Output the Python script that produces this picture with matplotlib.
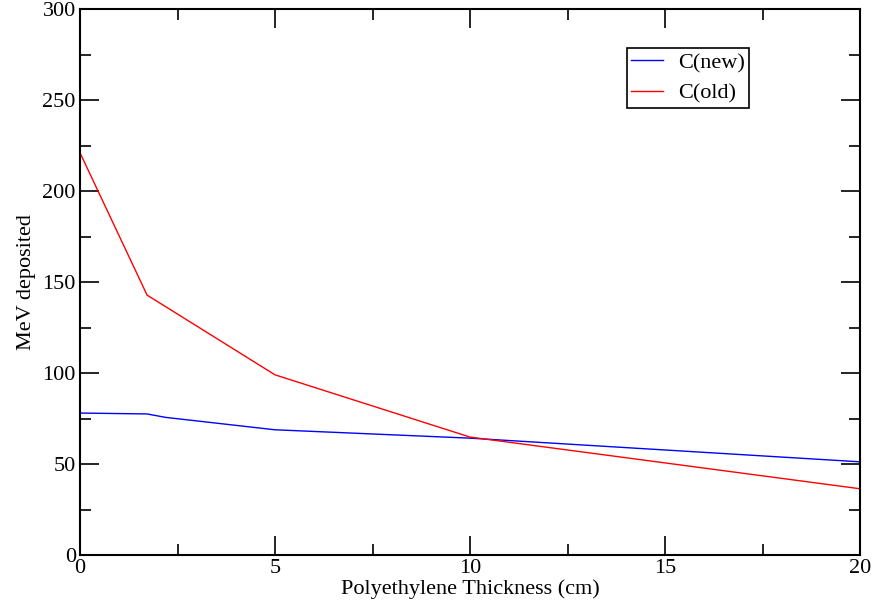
import matplotlib.pyplot as plt
from matplotlib.ticker import MultipleLocator

plt.rcParams['font.family'] = ['Liberation Serif', 'DejaVu Serif']

# thickness (cm) and deposited energy (MeV)
x_new = [0, 1.72, 2.2, 5, 10, 20]
y_new = [78.0, 77.5, 75.6, 68.8, 64.2, 51.2]
x_old = [0, 1.72, 5, 10, 20]
y_old = [221.0, 142.8, 99.0, 64.8, 36.4]

fig = plt.figure(figsize=(8.74, 6.09), dpi=100)
ax = fig.add_axes([80 / 874, 54 / 609, 780 / 874, 546 / 609])

ax.plot(x_new, y_new, color='#0000ff', lw=1.0, label='C(new)')
ax.plot(x_old, y_old, color='#ff0000', lw=1.0, label='C(old)')

ax.set_xlim(0, 20)
ax.set_ylim(0, 300)
ax.xaxis.set_major_locator(MultipleLocator(5))
ax.xaxis.set_minor_locator(MultipleLocator(2.5))
ax.yaxis.set_major_locator(MultipleLocator(50))
ax.yaxis.set_minor_locator(MultipleLocator(25))
ax.tick_params(which='both', direction='in', top=True, right=True, labelsize=16, width=1.2)
ax.tick_params(which='major', length=14, pad=3)
ax.tick_params(which='minor', length=8)
for s in ax.spines.values():
    s.set_linewidth(1.5)

ax.set_xlabel('Polyethylene Thickness (cm)', fontsize=16, labelpad=1)
ax.set_ylabel('MeV deposited', fontsize=16, labelpad=5)

leg = ax.legend(loc='upper left', bbox_to_anchor=(547 / 780, 1 - 39 / 546), fontsize=16,
                fancybox=False, framealpha=1, edgecolor='black', handlelength=1.4,
                borderpad=0.2, labelspacing=0.45, handletextpad=0.7, borderaxespad=0)
leg.get_frame().set_linewidth(1.2)

plt.savefig('out.png', dpi=100)
